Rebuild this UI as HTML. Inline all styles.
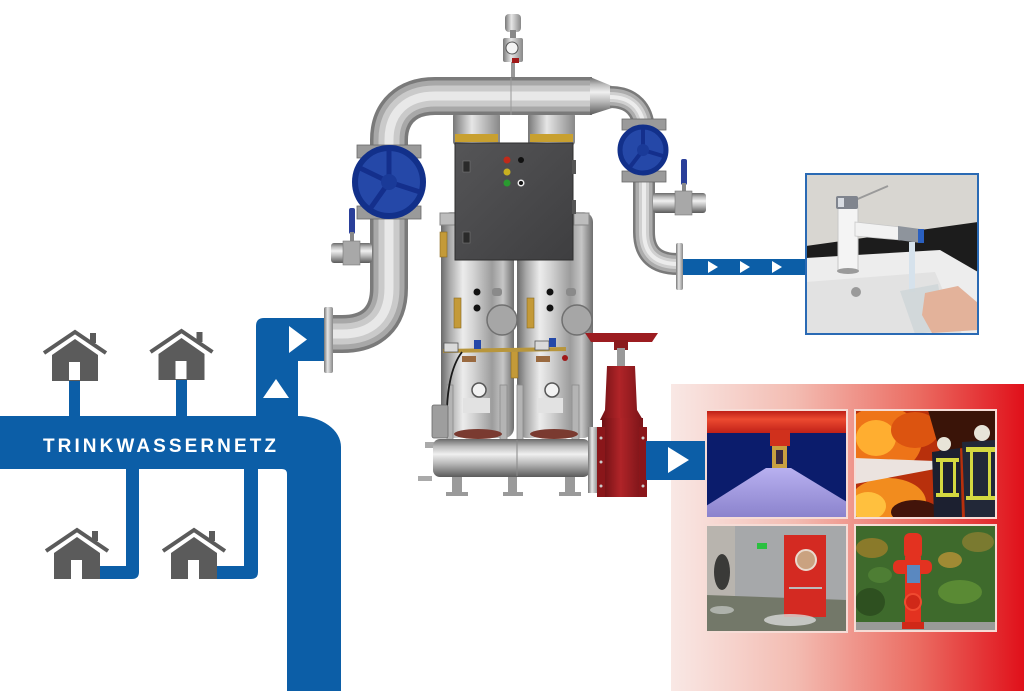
<!DOCTYPE html>
<html><head><meta charset="utf-8"><style>
html,body{margin:0;padding:0;background:#fff;}
svg{display:block;}
</style></head><body>
<svg width="1024" height="691" viewBox="0 0 1024 691" xmlns="http://www.w3.org/2000/svg">
<defs>
<linearGradient id="panel" x1="0" y1="0" x2="1" y2="0">
<stop offset="0" stop-color="#f9e8e5"/><stop offset="0.35" stop-color="#f3bcb2"/><stop offset="0.7" stop-color="#eb6c62"/><stop offset="1" stop-color="#e0101a"/>
</linearGradient>
<linearGradient id="tk" x1="0" y1="0" x2="1" y2="0">
<stop offset="0" stop-color="#6a6a6a"/><stop offset="0.12" stop-color="#a8a8a8"/><stop offset="0.3" stop-color="#ececec"/><stop offset="0.45" stop-color="#d2d2d2"/><stop offset="0.7" stop-color="#9c9c9c"/><stop offset="0.85" stop-color="#c6c6c6"/><stop offset="1" stop-color="#6e6e6e"/>
</linearGradient>
<linearGradient id="mh" x1="0" y1="0" x2="0" y2="1">
<stop offset="0" stop-color="#6a6a6a"/><stop offset="0.2" stop-color="#bcbcbc"/><stop offset="0.4" stop-color="#f0f0f0"/><stop offset="0.65" stop-color="#b8b8b8"/><stop offset="1" stop-color="#5a5a5a"/>
</linearGradient>
<linearGradient id="sv" x1="0" y1="0" x2="1" y2="0">
<stop offset="0" stop-color="#777"/><stop offset="0.4" stop-color="#e6e6e6"/><stop offset="1" stop-color="#888"/>
</linearGradient>
<linearGradient id="box" x1="0" y1="0" x2="1" y2="1">
<stop offset="0" stop-color="#555557"/><stop offset="1" stop-color="#3e3e40"/>
</linearGradient>
<linearGradient id="redv" x1="0" y1="0" x2="1" y2="0">
<stop offset="0" stop-color="#6e1014"/><stop offset="0.45" stop-color="#b02428"/><stop offset="1" stop-color="#7a1418"/>
</linearGradient>
<linearGradient id="spray" x1="0" y1="0" x2="0" y2="1">
<stop offset="0" stop-color="#b8b0f0"/><stop offset="1" stop-color="#8a82cc"/>
</linearGradient>
<linearGradient id="rpipe" x1="0" y1="0" x2="0" y2="1">
<stop offset="0" stop-color="#b81a14"/><stop offset="0.4" stop-color="#ec4a30"/><stop offset="1" stop-color="#c02018"/>
</linearGradient>
<clipPath id="cf"><rect x="806" y="174" width="172" height="160"/></clipPath>
<clipPath id="c1"><rect x="706" y="410" width="141" height="108"/></clipPath>
<clipPath id="c2"><rect x="855" y="410" width="141" height="108"/></clipPath>
<clipPath id="c3"><rect x="706" y="525" width="141" height="107"/></clipPath>
<clipPath id="c4"><rect x="855" y="525" width="141" height="106"/></clipPath>
</defs>

<rect x="0" y="0" width="1024" height="691" fill="#fff"/>

<!-- red panel -->
<rect x="671" y="384" width="353" height="307" fill="url(#panel)"/>

<!-- blue network -->
<g fill="#0c5ea7">
<path d="M0,416 L298,416 A43,31 0 0 1 341,447 L341,691 L287,691 L287,474 Q287,469 282,469 L0,469 Z"/>
<path d="M256,326 Q256,318 264,318 L325,318 L325,361 L298,361 L298,416 L256,416 Z"/>
<rect x="69" y="378" width="11" height="40"/>
<rect x="176" y="378" width="11" height="40"/>
<path d="M126,467 L139,467 L139,572 Q139,579 132,579 L100,579 L100,566 L126,566 Z"/>
<path d="M244,467 L258,467 L258,572 Q258,579 251,579 L216,579 L216,566 L244,566 Z"/>
</g>
<polygon points="289,326 289,353 307,339.5" fill="#fff"/>
<polygon points="263,398 289,398 276,379" fill="#fff"/>
<text x="43" y="452" font-family="Liberation Sans, sans-serif" font-weight="bold" font-size="19" fill="#fff" textLength="233" lengthAdjust="spacing">TRINKWASSERNETZ</text>

<!-- houses -->
<g transform="translate(75,332)">
<polygon points="-23,23 0,7 23,23 23,49 -23,49" fill="#5b5b5b"/>
<polyline points="-31,21 0,0 31,21" fill="none" stroke="#fff" stroke-width="9"/>
<rect x="15" y="1" width="6" height="10" fill="#5b5b5b"/>
<polyline points="-31,21 0,0 31,21" fill="none" stroke="#5b5b5b" stroke-width="4"/>
<rect x="-6" y="30" width="11" height="18" fill="#fff"/>
</g>
<g transform="translate(181.5,331)">
<polygon points="-23,23 0,7 23,23 23,49 -23,49" fill="#5b5b5b"/>
<polyline points="-31,21 0,0 31,21" fill="none" stroke="#fff" stroke-width="9"/>
<rect x="15" y="1" width="6" height="10" fill="#5b5b5b"/>
<polyline points="-31,21 0,0 31,21" fill="none" stroke="#5b5b5b" stroke-width="4"/>
<rect x="-6" y="30" width="11" height="18" fill="#fff"/>
</g>
<g transform="translate(77,530)">
<polygon points="-23,23 0,7 23,23 23,49 -23,49" fill="#5b5b5b"/>
<polyline points="-31,21 0,0 31,21" fill="none" stroke="#fff" stroke-width="9"/>
<rect x="15" y="1" width="6" height="10" fill="#5b5b5b"/>
<polyline points="-31,21 0,0 31,21" fill="none" stroke="#5b5b5b" stroke-width="4"/>
<rect x="-6" y="30" width="11" height="19" fill="#fff"/>
</g>
<g transform="translate(194,530)">
<polygon points="-23,23 0,7 23,23 23,49 -23,49" fill="#5b5b5b"/>
<polyline points="-31,21 0,0 31,21" fill="none" stroke="#fff" stroke-width="9"/>
<rect x="15" y="1" width="6" height="10" fill="#5b5b5b"/>
<polyline points="-31,21 0,0 31,21" fill="none" stroke="#5b5b5b" stroke-width="4"/>
<rect x="-6" y="30" width="11" height="19" fill="#fff"/>
</g>

<!-- ===== machine ===== -->
<!-- tanks -->
<rect x="441" y="212" width="73" height="226" rx="10" fill="url(#tk)"/>
<rect x="517" y="212" width="76" height="226" rx="10" fill="url(#tk)"/>
<rect x="440" y="213" width="15" height="12" fill="#bdbdbd" stroke="#888" stroke-width="1"/>
<rect x="574" y="213" width="15" height="12" fill="#bdbdbd" stroke="#888" stroke-width="1"/>
<!-- supports -->
<g fill="#b4b4b4" stroke="#8a8a8a" stroke-width="0.8">
<rect x="447" y="385" width="6" height="55"/>
<rect x="500" y="385" width="7" height="55"/>
<rect x="517" y="385" width="6" height="55"/>
<rect x="572" y="385" width="7" height="55"/>
</g>
<ellipse cx="478" cy="434" rx="24" ry="5" fill="#7a3a30"/>
<ellipse cx="554" cy="434" rx="24" ry="5" fill="#7a3a30"/>
<!-- tank details -->
<g fill="#111">
<circle cx="477" cy="292" r="3.5"/><circle cx="477" cy="308" r="3.5"/>
<circle cx="550" cy="292" r="3.5"/><circle cx="550" cy="308" r="3.5"/>
</g>
<g fill="#8a8a8a">
<rect x="492" y="288" width="10" height="8" rx="3"/><rect x="566" y="288" width="10" height="8" rx="3"/>
</g>
<circle cx="502" cy="320" r="15" fill="#a6a6a6" stroke="#707070" stroke-width="1.5"/>
<circle cx="577" cy="320" r="15" fill="#a6a6a6" stroke="#707070" stroke-width="1.5"/>
<!-- brass -->
<g fill="#c49a38" stroke="#8a6a20" stroke-width="0.6">
<rect x="454" y="298" width="7" height="30"/>
<rect x="527" y="298" width="7" height="30"/>
<rect x="440" y="232" width="7" height="25"/>
<rect x="511" y="350" width="7" height="28"/>
</g>
<line x1="443" y1="351" x2="566" y2="349" stroke="#b8963c" stroke-width="4"/>
<rect x="444" y="343" width="14" height="9" fill="#dadada" stroke="#555" stroke-width="0.8"/>
<rect x="535" y="341" width="14" height="9" fill="#dadada" stroke="#555" stroke-width="0.8"/>
<rect x="474" y="340" width="7" height="9" fill="#2448a8"/>
<rect x="549" y="338" width="7" height="9" fill="#2448a8"/>
<rect x="462" y="356" width="14" height="6" fill="#9a6a40"/>
<rect x="536" y="356" width="14" height="6" fill="#9a6a40"/>
<circle cx="565" cy="358" r="3" fill="#a01818"/>
<path d="M462,352 C452,365 448,385 447,408" fill="none" stroke="#1a1a1a" stroke-width="1.8"/>
<!-- gauges & labels -->
<circle cx="479" cy="390" r="7" fill="#f2f2f2" stroke="#555" stroke-width="1.5"/>
<circle cx="552" cy="390" r="7" fill="#f2f2f2" stroke="#555" stroke-width="1.5"/>
<rect x="463" y="398" width="27" height="15" fill="#e2e2e2"/>
<rect x="537" y="398" width="26" height="15" fill="#e2e2e2"/>
<!-- filter -->
<rect x="432" y="405" width="16" height="33" rx="2" fill="#9e9e9e" stroke="#6a6a6a" stroke-width="0.8"/>
<!-- manifold -->
<rect x="425" y="442" width="10" height="6" fill="#aaa"/>
<rect x="433" y="439" width="157" height="38" rx="7" fill="url(#mh)"/>
<line x1="517" y1="440" x2="517" y2="476" stroke="#888" stroke-width="1"/>
<rect x="418" y="476" width="14" height="5" fill="#aaa"/>
<g fill="#9a9a9a">
<rect x="452" y="477" width="10" height="15"/><rect x="446" y="492" width="22" height="4"/>
<rect x="508" y="477" width="9" height="15"/><rect x="503" y="492" width="20" height="4"/>
<rect x="565" y="477" width="10" height="15"/><rect x="559" y="492" width="22" height="4"/>
</g>
<rect x="588" y="427" width="10" height="66" fill="url(#sv)"/>

<!-- flanges on box top -->
<rect x="453" y="113" width="47" height="32" rx="3" fill="url(#sv)"/>
<rect x="455" y="134" width="43" height="8" fill="#c8a030"/>
<rect x="528" y="113" width="47" height="32" rx="3" fill="url(#sv)"/>
<rect x="530" y="134" width="43" height="8" fill="#c8a030"/>

<!-- control box -->
<rect x="455" y="143" width="118" height="117" fill="url(#box)" stroke="#2e2e2e" stroke-width="1"/>
<rect x="572" y="160" width="4" height="14" fill="#555"/><rect x="572" y="200" width="4" height="14" fill="#555"/>
<rect x="463" y="161" width="7" height="11" fill="#2a2a2a" stroke="#777" stroke-width="0.6"/>
<rect x="463" y="232" width="7" height="11" fill="#2a2a2a" stroke="#777" stroke-width="0.6"/>
<circle cx="507" cy="160" r="3.5" fill="#c02a1a"/>
<circle cx="507" cy="172" r="3.5" fill="#c8b020"/>
<circle cx="507" cy="183" r="3.5" fill="#2a9a30"/>
<circle cx="521" cy="160" r="3" fill="#111"/>
<circle cx="521" cy="183" r="3.5" fill="#eee"/><circle cx="521" cy="183" r="2" fill="#111"/>

<!-- top gauge -->
<rect x="511" y="55" width="4" height="24" fill="#999"/>
<rect x="505" y="14" width="16" height="18" rx="4" fill="url(#sv)"/>
<rect x="510" y="30" width="6" height="9" fill="#888"/>
<rect x="503" y="38" width="20" height="24" rx="2" fill="url(#sv)"/>
<circle cx="512" cy="48" r="6" fill="#f4f4f4" stroke="#555" stroke-width="1"/>
<rect x="512" y="58" width="7" height="5" fill="#a01818"/>

<!-- pipes -->
<g fill="none">
<path d="M333,334 L342,334 C372,334 389,318 389,288 L389,140 C389,112 407,96 435,96 L592,96" stroke="#7a7a7a" stroke-width="38"/>
<path d="M333,334 L342,334 C372,334 389,318 389,288 L389,140 C389,112 407,96 435,96 L592,96" stroke="#a8a8a8" stroke-width="31"/>
<path d="M333,334 L342,334 C372,334 389,318 389,288 L389,140 C389,112 407,96 435,96 L592,96" stroke="#cacaca" stroke-width="21"/>
<path d="M333,334 L342,334 C372,334 389,318 389,288 L389,140 C389,112 407,96 435,96 L592,96" stroke="#e8e8e8" stroke-width="9"/>
</g>
<line x1="511" y1="78" x2="511" y2="115" stroke="#999" stroke-width="1"/>
<polygon points="590,77 612,86 612,108 590,115" fill="url(#mh)"/>
<g fill="none">
<path d="M610,97 C632,97 644,110 644,132 L644,232 C644,254 656,264 678,264" stroke="#7a7a7a" stroke-width="22"/>
<path d="M610,97 C632,97 644,110 644,132 L644,232 C644,254 656,264 678,264" stroke="#acacac" stroke-width="17"/>
<path d="M610,97 C632,97 644,110 644,132 L644,232 C644,254 656,264 678,264" stroke="#d0d0d0" stroke-width="10"/>
<path d="M610,97 C632,97 644,110 644,132 L644,232 C644,254 656,264 678,264" stroke="#ececec" stroke-width="4"/>
</g>
<!-- flanges pipe ends -->
<rect x="324" y="307" width="9" height="66" rx="2" fill="url(#sv)"/>
<rect x="676" y="243" width="7" height="47" rx="2" fill="url(#sv)"/>

<!-- left valve -->
<rect x="357" y="145" width="64" height="13" fill="#9a9a9a" stroke="#6a6a6a" stroke-width="0.8"/>
<rect x="357" y="206" width="64" height="13" fill="#9a9a9a" stroke="#6a6a6a" stroke-width="0.8"/>
<rect x="366" y="155" width="46" height="54" fill="#1e3e9a"/>
<circle cx="389" cy="182" r="34" fill="#2548a8" stroke="#12308a" stroke-width="6"/>
<g stroke="#142f8c" stroke-width="5">
<line x1="389" y1="182" x2="389" y2="149"/><line x1="389" y1="182" x2="420" y2="192"/>
<line x1="389" y1="182" x2="370" y2="209"/><line x1="389" y1="182" x2="360" y2="168"/>
</g>
<circle cx="389" cy="182" r="8" fill="#1a3a98"/>
<!-- right valve -->
<rect x="622" y="119" width="44" height="11" fill="#9a9a9a" stroke="#6a6a6a" stroke-width="0.8"/>
<rect x="622" y="171" width="44" height="11" fill="#9a9a9a" stroke="#6a6a6a" stroke-width="0.8"/>
<rect x="632" y="128" width="24" height="44" fill="#1e3e9a"/>
<circle cx="643" cy="150" r="23" fill="#2548a8" stroke="#12308a" stroke-width="5"/>
<g stroke="#142f8c" stroke-width="4">
<line x1="643" y1="150" x2="643" y2="129"/><line x1="643" y1="150" x2="663" y2="156"/><line x1="643" y1="150" x2="630" y2="167"/>
</g>
<circle cx="643" cy="150" r="6" fill="#1a3a98"/>
<!-- ball valves -->
<rect x="349" y="208" width="6" height="26" rx="2" fill="#2a3f9a"/>
<rect x="350" y="232" width="4" height="12" fill="#888"/>
<rect x="331" y="243" width="41" height="20" rx="3" fill="url(#mh)"/>
<rect x="343" y="241" width="17" height="24" fill="#a8a8a8" stroke="#777" stroke-width="0.6"/>
<rect x="681" y="159" width="6" height="26" rx="2" fill="#2a3f9a"/>
<rect x="682" y="183" width="4" height="12" fill="#888"/>
<rect x="653" y="193" width="53" height="20" rx="3" fill="url(#mh)"/>
<rect x="675" y="191" width="17" height="24" fill="#a8a8a8" stroke="#777" stroke-width="0.6"/>

<!-- red gate valve -->
<polygon points="585,333 658,333 652,342 591,342" fill="#9c1c20"/>
<rect x="614" y="340" width="14" height="10" fill="#8a1a1c"/>
<rect x="617" y="348" width="8" height="20" fill="#999"/>
<path d="M607,366 L635,366 L637,410 L643,420 L600,420 L605,410 Z" fill="url(#redv)"/>
<rect x="602" y="418" width="41" height="79" fill="url(#redv)"/>
<rect x="597" y="427" width="8" height="70" fill="#8a161a"/>
<rect x="639" y="427" width="8" height="70" fill="#8a161a"/>
<g fill="#ccc"><circle cx="601" cy="438" r="1.5"/><circle cx="601" cy="462" r="1.5"/><circle cx="601" cy="486" r="1.5"/><circle cx="643" cy="438" r="1.5"/><circle cx="643" cy="486" r="1.5"/></g>

<!-- blue outlets -->
<rect x="683" y="259" width="123" height="16" fill="#0c5ea7"/>
<g fill="#fff">
<polygon points="708,261 708,273 718,267"/><polygon points="740,261 740,273 750,267"/><polygon points="772,261 772,273 782,267"/>
</g>
<rect x="646" y="441" width="60" height="39" fill="#0c5ea7"/>
<polygon points="668,447 668,473 689,460" fill="#fff"/>

<!-- faucet photo -->
<g clip-path="url(#cf)">
<rect x="806" y="174" width="172" height="160" fill="#d8d6d1"/>
<polygon points="806,246 978,222 978,276 806,262" fill="#1c1c1c"/>
<polygon points="806,258 940,250 978,272 978,334 806,334" fill="#ededed"/>
<polygon points="806,282 935,272 962,334 806,334" fill="#e2e2e2"/>
<circle cx="856" cy="292" r="5" fill="#9a9a9a"/>
<line x1="853" y1="201" x2="888" y2="186" stroke="#9a9a9a" stroke-width="2"/>
<rect x="838" y="205" width="20" height="66" fill="#f4f4f4" stroke="#c8c8c8" stroke-width="1"/>
<rect x="836" y="196" width="22" height="13" rx="2" fill="#80858e"/>
<rect x="838" y="198" width="6" height="9" fill="#d8dce2"/>
<ellipse cx="848" cy="271" rx="11" ry="3" fill="#9a9a9a"/>
<polygon points="855,222 900,227 900,240 855,236" fill="#f2f2f2" stroke="#c8c8c8" stroke-width="0.8"/>
<polygon points="898,226 920,229 920,243 898,240" fill="#8e949c"/>
<rect x="918" y="229" width="6" height="14" fill="#2a60c0"/>
<rect x="909" y="242" width="6" height="50" fill="#d6e2ec"/>
<polygon points="900,291 938,284 946,330 915,334" fill="#cfd6d8" opacity="0.85"/>
<polygon points="925,293 958,286 978,303 978,330 932,333 922,315" fill="#e3b29a"/>
</g>
<rect x="806" y="174" width="172" height="160" fill="none" stroke="#2a6ab4" stroke-width="2"/>

<!-- sprinkler photo -->
<g clip-path="url(#c1)">
<rect x="706" y="410" width="141" height="108" fill="#0b1c6c"/>
<rect x="706" y="410" width="141" height="23" fill="url(#rpipe)"/>
<rect x="770" y="430" width="20" height="16" fill="#d0301c"/>
<rect x="772" y="446" width="15" height="22" fill="#c8a040"/>
<rect x="776" y="450" width="7" height="14" fill="#3a2a40"/>
<polygon points="766,468 791,468 847,502 847,518 706,518 706,506" fill="url(#spray)"/>
</g>
<rect x="706" y="410" width="141" height="108" fill="none" stroke="#f6dcd6" stroke-width="2"/>

<!-- fire photo -->
<g clip-path="url(#c2)">
<rect x="855" y="410" width="141" height="108" fill="#b8300c"/>
<ellipse cx="882" cy="440" rx="40" ry="34" fill="#ee7418"/>
<ellipse cx="876" cy="438" rx="20" ry="18" fill="#ffae30"/>
<ellipse cx="888" cy="502" rx="38" ry="24" fill="#f28c1e"/>
<ellipse cx="868" cy="506" rx="18" ry="14" fill="#ffc03e"/>
<ellipse cx="915" cy="430" rx="24" ry="18" fill="#dc5410"/>
<polygon points="928,410 996,410 996,442 940,452" fill="#3a1408"/>
<ellipse cx="915" cy="512" rx="24" ry="12" fill="#42140a"/>
<polygon points="855,458 935,461 935,469 855,484" fill="#ebe3df"/>
<path d="M932,452 L960,448 L962,518 L934,518 Z" fill="#1c2030"/>
<circle cx="944" cy="444" r="7" fill="#e8e4d8"/>
<path d="M962,442 L995,440 L996,518 L965,518 Z" fill="#222838"/>
<circle cx="982" cy="433" r="8" fill="#e8e4d8"/>
<g fill="#d4d840">
<rect x="936" y="458" width="23" height="4"/><rect x="936" y="493" width="23" height="4"/><rect x="940" y="458" width="3" height="38"/><rect x="953" y="458" width="3" height="38"/>
<rect x="966" y="447" width="29" height="5"/><rect x="966" y="496" width="30" height="4"/><rect x="970" y="447" width="3" height="50"/><rect x="988" y="447" width="3" height="50"/>
</g>
</g>
<rect x="855" y="410" width="141" height="108" fill="none" stroke="#f6dcd6" stroke-width="2"/>

<!-- door photo -->
<g clip-path="url(#c3)">
<rect x="706" y="525" width="141" height="107" fill="#a6a8aa"/>
<rect x="706" y="525" width="29" height="75" fill="#b8b4ae"/>
<polygon points="706,595 847,600 847,632 706,632" fill="#737869"/>
<rect x="784" y="535" width="42" height="82" fill="#d42a22"/>
<circle cx="806" cy="560" r="10" fill="#caa280" stroke="#eadace" stroke-width="2"/>
<line x1="789" y1="588" x2="822" y2="588" stroke="#bbb" stroke-width="2"/>
<rect x="757" y="543" width="10" height="6" fill="#2ac040"/>
<ellipse cx="722" cy="572" rx="8" ry="18" fill="#3a3a38"/>
<ellipse cx="790" cy="620" rx="26" ry="6" fill="#d8dad8" opacity="0.8"/>
<ellipse cx="722" cy="610" rx="12" ry="4" fill="#c8cac8" opacity="0.7"/>
</g>
<rect x="706" y="525" width="141" height="107" fill="none" stroke="#f6dcd6" stroke-width="2"/>

<!-- hydrant photo -->
<g clip-path="url(#c4)">
<rect x="855" y="525" width="141" height="106" fill="#3e6a2c"/>
<ellipse cx="872" cy="548" rx="16" ry="10" fill="#8a7a2a"/>
<ellipse cx="978" cy="542" rx="16" ry="10" fill="#7a7a30"/>
<ellipse cx="960" cy="592" rx="22" ry="12" fill="#5a8a34"/>
<ellipse cx="870" cy="602" rx="15" ry="14" fill="#2e5020"/>
<ellipse cx="950" cy="560" rx="12" ry="8" fill="#a08a34"/>
<ellipse cx="880" cy="575" rx="12" ry="8" fill="#4e7e34"/>
<rect x="855" y="622" width="141" height="9" fill="#9a9a98"/>
<rect x="904" y="533" width="18" height="26" rx="6" fill="#e33220"/>
<rect x="893" y="560" width="39" height="14" rx="6" fill="#e33220"/>
<rect x="905" y="557" width="16" height="71" fill="#e33220"/>
<rect x="907" y="565" width="13" height="18" fill="#5a88c0"/>
<circle cx="913" cy="602" r="8" fill="#d02818" stroke="#f04a30" stroke-width="2"/>
<rect x="902" y="622" width="22" height="7" fill="#d02818"/>
</g>
<rect x="855" y="525" width="141" height="106" fill="none" stroke="#f6dcd6" stroke-width="2"/>
</svg>
</body></html>
